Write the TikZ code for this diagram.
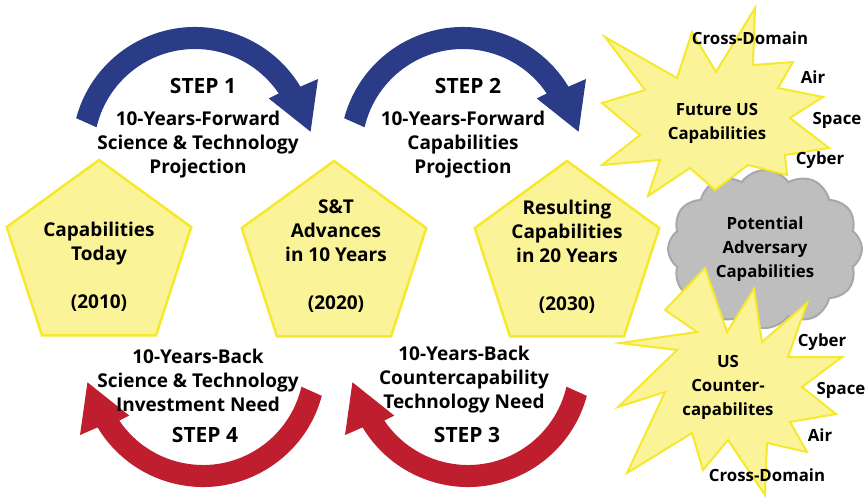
\documentclass[tikz,border=0pt]{standalone}
\usepackage{fontspec}
\setmainfont{Open Sans}
\usetikzlibrary{shapes.geometric, shapes.symbols}

\definecolor{stepblue}{RGB}{42,59,136}
\definecolor{stepred}{RGB}{190,30,45}
\definecolor{padfill}{RGB}{250,243,152}
\definecolor{padedge}{RGB}{246,232,44}
\definecolor{cloudfill}{RGB}{191,190,191}
\definecolor{cloudedge}{RGB}{166,167,170}

\tikzset{
  pad/.style={regular polygon, regular polygon sides=5, minimum size=194pt,
              inner sep=0pt, fill=padfill, draw=padedge, line width=2.5pt},
  burst/.style={fill=padfill, draw=padedge, line width=2pt, line join=miter},
  colt/.style={font=\bfseries\fontsize{19}{24}\selectfont, align=center, inner sep=0pt},
  stept/.style={font=\bfseries\fontsize{21}{24}\selectfont, inner sep=0pt},
  smallt/.style={font=\bfseries\fontsize{16.8}{24}\selectfont, align=center, inner sep=0pt},
  turn/.pic={
    \fill[pic actions] (165:123pt) arc[start angle=165, end angle=31, radius=123pt]
      -- (30:142pt) -- (9:117pt) -- (35:90pt) -- (34:101pt)
      arc[start angle=34, end angle=167, radius=101pt] -- cycle;
  }
}

\begin{document}
\begin{tikzpicture}[x=1pt, y=1pt]
  \useasboundingbox (0,0) rectangle (866,-499);

  % the three stages
  \node[pad] (p1) at (99,-257) {};
  \node[pad] (p2) at (334,-258) {};
  \node[pad] (p3) at (567,-258) {};
  \node[colt] (t1) at (99,-267) {Capabilities\\Today\\[24pt](2010)};
  \node[colt] (t2) at (336,-256) {S\&T\\Advances\\in 10 Years\\[24pt](2020)};
  \node[colt] (t3) at (567,-257) {Resulting\\Capabilities\\in 20 Years\\[24pt](2030)};

  % forward and back arrows
  \pic[fill=stepblue] (a1) at (195,-150) {turn};
  \pic[fill=stepblue] (a2) at (463,-150) {turn};
  \pic[fill=stepred, rotate=180] (a4) at (203,-364) {turn};
  \pic[fill=stepred, rotate=180] (a3) at (468,-364) {turn};

  \node[stept] (s1) at (203,-86) {STEP 1};
  \node[colt] (f1) at (198,-145) {10-Years-Forward\\Science \& Technology\\Projection};
  \node[stept] (s2) at (468,-86) {STEP 2};
  \node[colt] (f2) at (463,-145) {10-Years-Forward\\Capabilities\\Projection};
  \node[colt] (b4) at (198,-380) {10-Years-Back\\Science \& Technology\\Investment Need};
  \node[stept] (s4) at (205,-435) {STEP 4};
  \node[colt] (b3) at (464,-380) {10-Years-Back\\Countercapability\\Technology Need};
  \node[stept] (s3) at (467,-435) {STEP 3};

  % adversary cloud
  \node[cloud, cloud puffs=12, cloud puff arc=110, aspect=1.2,
        minimum width=194pt, minimum height=158pt,
        fill=cloudfill, draw=cloudedge, line width=2pt, smallt] (adv)
        at (765,-249) {Potential\\Adversary\\Capabilities};

  % future capabilities burst
  \draw[burst] (755,-8) -- (753,-65) -- (793,-62) -- (778,-88) -- (823,-97)
    -- (790,-118) -- (829,-148) -- (785,-155) -- (787,-175) -- (748,-165)
    -- (715,-190) -- (690,-168) -- (648,-196) -- (660,-160) -- (602,-165)
    -- (640,-135) -- (602,-103) -- (645,-90) -- (605,-37) -- (677,-78)
    -- (692,-32) -- (716,-72) -- cycle;
  \node[smallt] (fus) at (717,-123) {Future US\\Capabilities};

  % counter-capabilities burst
  \draw[burst] (705,-268) -- (727,-332) -- (754,-289) -- (762,-342) -- (807,-303)
    -- (788,-357) -- (842,-357) -- (802,-387) -- (836,-414) -- (790,-422)
    -- (807,-452) -- (767,-443) -- (765,-495) -- (728,-440) -- (703,-470)
    -- (692,-433) -- (627,-473) -- (665,-392) -- (618,-407) -- (677,-350)
    -- (620,-343) -- (697,-332) -- (665,-310) -- cycle;
  \node[smallt] (cus) at (728,-387) {US\\Counter-\\capabilites};

  % domains
  \node[smallt] (d1) at (750,-38) {Cross-Domain};
  \node[smallt] (d2) at (813,-77) {Air};
  \node[smallt] (d3) at (837,-120) {Space};
  \node[smallt] (d4) at (820,-160) {Cyber};
  \node[smallt] (d5) at (822,-342) {Cyber};
  \node[smallt] (d6) at (841,-390) {Space};
  \node[smallt] (d7) at (820,-435) {Air};
  \node[smallt] (d8) at (767,-475) {Cross-Domain};
\end{tikzpicture}
\end{document}
